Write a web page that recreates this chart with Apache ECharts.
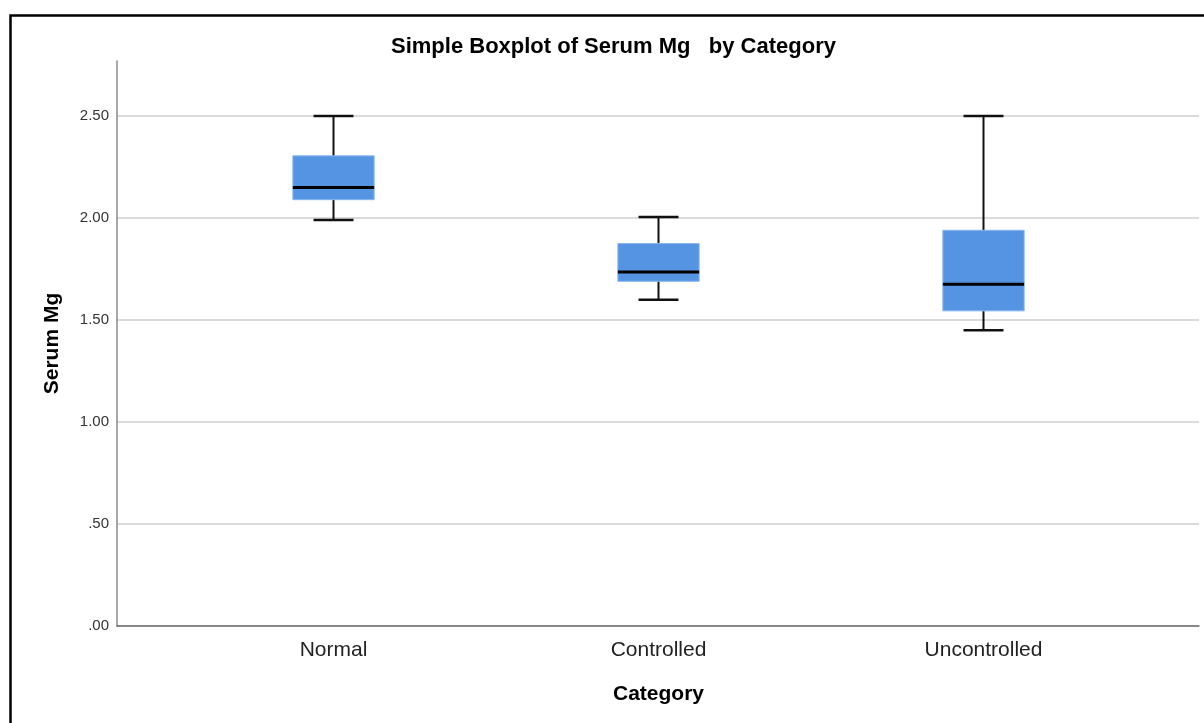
<!DOCTYPE html>
<html>
<head>
<meta charset="utf-8">
<script src="https://cdn.jsdelivr.net/npm/echarts@6/dist/echarts.min.js"></script>
<style>
html,body{margin:0;padding:0;background:#fff;}
#chart{width:1204px;height:723px;}
</style>
</head>
<body>
<div id="chart"></div>
<script>
const categories = ['Normal', 'Controlled', 'Uncontrolled'];
const minVals    = [1.99, 1.60, 1.45];
const q1Vals     = [2.09, 1.69, 1.545];
const medianVals = [2.15, 1.735, 1.675];
const q3Vals     = [2.305, 1.875, 1.94];
const maxVals    = [2.50, 2.005, 2.50];
const yTicks = [0, 0.5, 1, 1.5, 2, 2.5];

const FONT = '"Liberation Sans", Arial, sans-serif';
const boxData = categories.map((c, i) => [i, minVals[i], q1Vals[i], medianVals[i], q3Vals[i], maxVals[i]]);

function fmtTick(v) {
  if (yTicks.indexOf(v) < 0) return '';
  const s = v.toFixed(2);
  return s.startsWith('0') ? s.slice(1) : s;
}

const chart = echarts.init(document.getElementById('chart'), null, {renderer: 'canvas'});
chart.setOption({
  backgroundColor: '#ffffff',
  animation: false,
  title: {
    text: 'Simple Boxplot of Serum Mg   by Category',
    left: 386, top: 31,
    textStyle: {fontFamily: FONT, fontSize: 22, fontWeight: 'bold', color: '#000'}
  },
  graphic: [{
    type: 'rect', left: 8, top: 13, silent: true,
    shape: {width: 1300, height: 800},
    style: {fill: 'none', stroke: '#000', lineWidth: 2.5}
  }],
  grid: [
    {left: 117, top: 61, width: 1082, height: 565},
    {left: 171, top: 61, width: 975, height: 565}
  ],
  xAxis: [
    {gridIndex: 0, type: 'value', min: 0, max: 1,
     axisLine: {show: true, lineStyle: {color: '#6e6e6e', width: 1.5}},
     axisTick: {show: false}, axisLabel: {show: false}, splitLine: {show: false}},
    {gridIndex: 1, type: 'category', data: categories,
     axisLine: {show: false}, axisTick: {show: false},
     axisLabel: {fontFamily: FONT, fontSize: 21, color: '#222', margin: 14},
     name: 'Category', nameLocation: 'middle', nameGap: 58,
     nameTextStyle: {fontFamily: FONT, fontSize: 21, fontWeight: 'bold', color: '#000'}}
  ],
  yAxis: [
    {gridIndex: 0, type: 'value', min: 0, max: 2.77, interval: 0.5,
     axisLine: {show: true, lineStyle: {color: '#8a8a8a', width: 1.5}},
     axisTick: {show: false},
     axisLabel: {fontFamily: FONT, fontSize: 15, color: '#333', margin: 8,
                 padding: [5, 0, 0, 0],
                 showMaxLabel: false, formatter: fmtTick},
     splitLine: {show: true, showMaxLine: false, lineStyle: {color: '#cfcfcf', width: 1.5}},
     name: 'Serum Mg', nameLocation: 'middle', nameGap: 54, nameRotate: 90,
     nameTextStyle: {fontFamily: FONT, fontSize: 21, fontWeight: 'bold', color: '#000'}},
    {gridIndex: 1, type: 'value', min: 0, max: 2.77, show: false}
  ],
  series: [{
    type: 'custom',
    xAxisIndex: 1, yAxisIndex: 1,
    data: boxData,
    encode: {x: 0, y: [1, 2, 3, 4, 5]},
    renderItem: function (params, api) {
      const idx = api.value(0);
      const band = api.size([1, 0])[0];
      const boxW = band * 0.25;
      const capW = band * 0.123;
      const pMin = api.coord([idx, api.value(1)]);
      const pQ1 = api.coord([idx, api.value(2)]);
      const pMed = api.coord([idx, api.value(3)]);
      const pQ3 = api.coord([idx, api.value(4)]);
      const pMax = api.coord([idx, api.value(5)]);
      const cx = pMed[0];
      const lineStyle = {stroke: '#111', lineWidth: 2};
      return {
        type: 'group',
        children: [
          {type: 'line', shape: {x1: cx, y1: pMax[1], x2: cx, y2: pQ3[1]}, style: lineStyle},
          {type: 'line', shape: {x1: cx, y1: pQ1[1], x2: cx, y2: pMin[1]}, style: lineStyle},
          {type: 'line', shape: {x1: cx - capW / 2, y1: pMax[1], x2: cx + capW / 2, y2: pMax[1]}, style: {stroke: '#111', lineWidth: 2.5}},
          {type: 'line', shape: {x1: cx - capW / 2, y1: pMin[1], x2: cx + capW / 2, y2: pMin[1]}, style: {stroke: '#111', lineWidth: 2.5}},
          {type: 'rect', shape: {x: cx - boxW / 2, y: pQ3[1], width: boxW, height: pQ1[1] - pQ3[1]},
           style: {fill: '#5494e2', stroke: '#86b4ee', lineWidth: 1}},
          {type: 'line', shape: {x1: cx - boxW / 2, y1: pMed[1], x2: cx + boxW / 2, y2: pMed[1]}, style: {stroke: '#000', lineWidth: 3}}
        ]
      };
    }
  }]
});
</script>
</body>
</html>
